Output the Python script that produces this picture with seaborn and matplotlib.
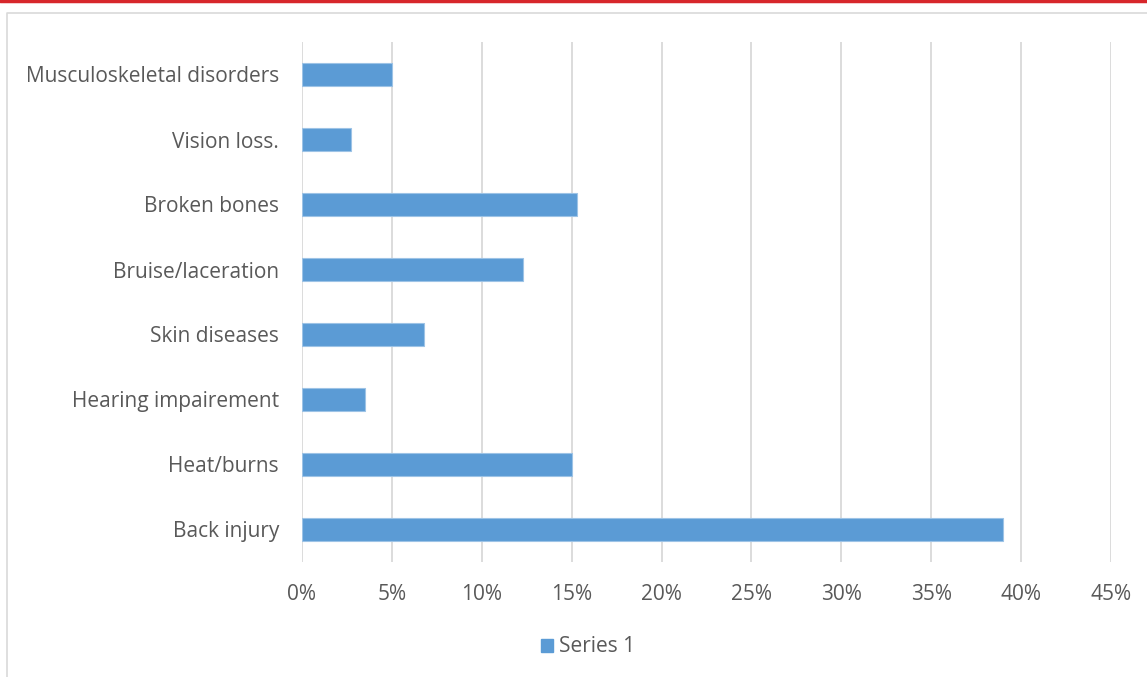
import numpy as np
import pandas as pd
import seaborn as sns
import matplotlib
matplotlib.use("Agg")
import matplotlib.pyplot as plt
from matplotlib.lines import Line2D
from matplotlib.patches import Patch

# data (percent)
categories = ['Musculoskeletal disorders', 'Vision loss.', 'Broken bones',
              'Bruise/laceration', 'Skin diseases', 'Hearing impairement',
              'Heat/burns', 'Back injury']
values = [5.0, 2.7, 15.3, 12.3, 6.8, 3.5, 15.0, 39.0]
xticks = [0, 5, 10, 15, 20, 25, 30, 35, 40, 45]

df = pd.DataFrame({'injury': categories, 'pct': values})

sns.set_theme(style="white")
plt.rcParams['font.family'] = ['Open Sans', 'DejaVu Sans']

W, H = 1147, 677
fig = plt.figure(figsize=(W / 100, H / 100), dpi=100)
ax = fig.add_axes([302 / W, 1 - 562 / H, (1111 - 302) / W, (562 - 42) / H])

bar_color = '#5b9bd5'
sns.barplot(data=df, x='pct', y='injury', order=categories, color=bar_color,
            saturation=1, width=0.35, ax=ax, edgecolor='#9dc3e6', linewidth=0.8)

ax.set_xlim(0, 45)
ax.set_xticks(xticks)
ax.set_xticklabels([f'{t}%' for t in xticks])
ax.xaxis.grid(True, color='#d9d9d9', linewidth=1.3)
ax.yaxis.grid(False)
ax.set_axisbelow(True)
for s in ax.spines.values():
    s.set_visible(False)
ax.set_xlabel('')
ax.set_ylabel('')
fs = 15
ax.tick_params(axis='x', length=0, pad=16, labelsize=fs, labelcolor='#595959')
ax.tick_params(axis='y', length=0, pad=16.5, labelsize=fs, labelcolor='#595959')

# legend
handles = [Patch(facecolor=bar_color, edgecolor=bar_color, label='Series 1')]
fig.legend(handles=handles, loc='center', bbox_to_anchor=(588 / W, 1 - 647 / H),
           frameon=False, fontsize=fs, handlelength=0.6, handleheight=0.6,
           handletextpad=0.3, labelcolor='#595959')

# red top rule and chart border
fig.add_artist(Line2D([0, 1], [1 - 1 / H, 1 - 1 / H], transform=fig.transFigure,
                      color='#d7262b', linewidth=2.5))
fig.add_artist(Line2D([7 / W, 7 / W, 1], [0, 1 - 13 / H, 1 - 13 / H],
                      transform=fig.transFigure, color='#d9d9d9', linewidth=1.2))

plt.savefig('out.png', dpi=100)
